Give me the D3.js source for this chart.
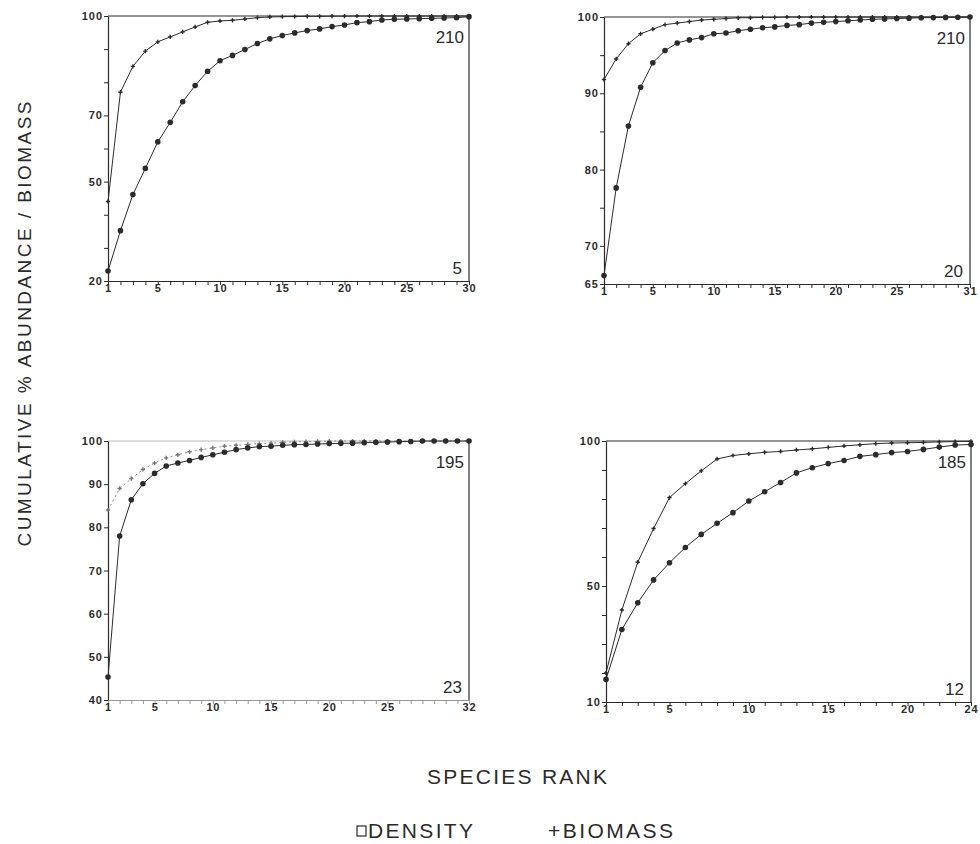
<!DOCTYPE html>
<html>
<head>
<meta charset="utf-8">
<script src="https://cdn.jsdelivr.net/npm/d3@7"></script>
<style>
  html, body { margin: 0; padding: 0; background: #fff; }
  svg { display: block; }
  text { font-family: "Liberation Sans", Arial, Helvetica, sans-serif; fill: #2b2b2b; }
</style>
</head>
<body>
<svg id="chart" width="980" height="844"></svg>
<script>
// ---------- data ----------
// Panel A (top left)
const rankA = d3.range(1, 31);
const densityA = [23, 35.2, 46.1, 54.0, 62.0, 67.9, 74.1, 79.0, 83.3, 86.5, 88.1, 89.9, 91.7, 93.1, 94.1, 94.9, 95.6, 96.1, 96.8, 97.3, 98.0, 98.3, 98.8, 99.0, 99.1, 99.2, 99.3, 99.4, 99.5, 99.8];
const biomassA = [44, 77, 84.8, 89.4, 92.2, 93.7, 95.2, 96.7, 98.1, 98.5, 98.7, 99.1, 99.5, 99.7, 99.8, 99.85, 99.9, 99.9, 99.95, 99.95, 100, 100, 100, 100, 100, 100, 100, 100, 100, 100];
const yTicksA = [20, 30, 40, 50, 60, 70, 80, 90, 100];
const yLabelsA = [20, 50, 70, 100];
const xLabelsA = [1, 5, 10, 15, 20, 25, 30];
const labelsA = ["210", "5"];

// Panel B (top right)
const rankB = d3.range(1, 32);
const densityB = [66.1, 77.6, 85.7, 90.8, 94.0, 95.6, 96.6, 97.0, 97.3, 97.8, 97.9, 98.2, 98.4, 98.6, 98.7, 98.9, 99.0, 99.2, 99.3, 99.4, 99.5, 99.6, 99.7, 99.75, 99.8, 99.85, 99.9, 99.92, 99.95, 99.97, 100];
const biomassB = [91.8, 94.5, 96.5, 97.8, 98.4, 99.0, 99.2, 99.4, 99.6, 99.7, 99.8, 99.9, 99.9, 99.95, 99.95, 100, 100, 100, 100, 100, 100, 100, 100, 100, 100, 100, 100, 100, 100, 100, 100];
const yTicksB = [65, 70, 75, 80, 85, 90, 95, 100];
const yLabelsB = [65, 70, 80, 90, 100];
const xLabelsB = [1, 5, 10, 15, 20, 25, 31];
const labelsB = ["210", "20"];

// Panel C (bottom left)
const rankC = d3.range(1, 33);
const densityC = [45.3, 78.0, 86.4, 90.1, 92.5, 94.2, 94.9, 95.5, 96.2, 96.8, 97.4, 98.0, 98.4, 98.7, 98.8, 99.0, 99.15, 99.2, 99.3, 99.4, 99.45, 99.5, 99.6, 99.7, 99.75, 99.85, 99.9, 100, 100, 100, 100, 100];
const biomassC = [84.0, 89.0, 91.3, 93.4, 94.9, 96.1, 96.8, 97.5, 98.0, 98.4, 98.8, 99.0, 99.2, 99.4, 99.5, 99.7, 99.8, 99.85, 99.9, 99.95, 100, 100, 100, 100, 100, 100, 100, 100, 100, 100, 100, 100];
const yTicksC = [40, 50, 60, 70, 80, 90, 100];
const yLabelsC = [40, 50, 60, 70, 80, 90, 100];
const xLabelsC = [1, 5, 10, 15, 20, 25, 32];
const labelsC = ["195", "23"];

// Panel D (bottom right)
const rankD = d3.range(1, 25);
const densityD = [17.8, 35.0, 44.2, 52.1, 58.0, 63.3, 67.8, 71.6, 75.3, 79.3, 82.5, 85.7, 89.0, 90.8, 92.2, 93.3, 94.7, 95.3, 96.0, 96.4, 97.1, 97.9, 98.6, 98.8];
const biomassD = [20, 41.7, 58.2, 69.8, 80.5, 85.3, 89.7, 93.8, 95.0, 95.6, 96.1, 96.4, 96.9, 97.3, 97.8, 98.3, 98.7, 99.1, 99.3, 99.4, 99.5, 99.7, 99.8, 99.9];
const yTicksD = [10, 20, 30, 40, 50, 60, 70, 80, 90, 100];
const yLabelsD = [10, 50, 100];
const xLabelsD = [1, 5, 10, 15, 20, 24];
const labelsD = ["185", "12"];

const legendLabels = ["DENSITY", "+BIOMASS"];
const xTitle = "SPECIES  RANK";
const yTitle = "CUMULATIVE  %  ABUNDANCE / BIOMASS";

// ---------- drawing ----------
const svg = d3.select("#chart");
const ink = "#2b2b2b";

const panels = [
  { rank: rankA, density: densityA, biomass: biomassA, yTicks: yTicksA, yLabels: yLabelsA, xLabels: xLabelsA, labels: labelsA,
    box: [108, 16, 469, 281], yDom: [20, 100], faint: false },
  { rank: rankB, density: densityB, biomass: biomassB, yTicks: yTicksB, yLabels: yLabelsB, xLabels: xLabelsB, labels: labelsB,
    box: [604, 17, 970, 284], yDom: [65, 100], faint: false },
  { rank: rankC, density: densityC, biomass: biomassC, yTicks: yTicksC, yLabels: yLabelsC, xLabels: xLabelsC, labels: labelsC,
    box: [108, 441, 469, 700], yDom: [40, 100], faint: true },
  { rank: rankD, density: densityD, biomass: biomassD, yTicks: yTicksD, yLabels: yLabelsD, xLabels: xLabelsD, labels: labelsD,
    box: [606, 441, 971, 702], yDom: [10, 100], faint: false }
];

panels.forEach(p => {
  const [x0, y0, x1, y1] = p.box;
  const x = d3.scaleLinear().domain([1, p.rank[p.rank.length - 1]]).range([x0, x1]);
  const y = d3.scaleLinear().domain(p.yDom).range([y1, y0]);
  const g = svg.append("g");

  // frame: top & right
  g.append("line").attr("x1", x0).attr("x2", x1).attr("y1", y0).attr("y2", y0)
    .attr("stroke", p.faint ? "#bbb" : ink).attr("stroke-width", 1);
  g.append("line").attr("x1", x1).attr("x2", x1).attr("y1", y0).attr("y2", y1)
    .attr("stroke", ink).attr("stroke-width", 1.2);

  // x axis
  const xAxis = d3.axisBottom(x).tickValues(p.rank).tickSize(4).tickSizeOuter(0)
    .tickFormat(d => p.xLabels.includes(d) ? d : "");
  const gx = g.append("g").attr("transform", `translate(0,${y1})`).call(xAxis);
  gx.select(".domain").attr("stroke", p.faint ? "#999" : ink).attr("stroke-width", 1.2);
  gx.selectAll(".tick line").attr("stroke", p.faint ? "#999" : ink);
  gx.selectAll("text").attr("dy", "0.55em").attr("y", 5)
    .style("font-size", "11px").style("font-weight", "bold").style("letter-spacing", "0.8px")
    .attr("fill", ink);

  // y axis
  const yAxis = d3.axisLeft(y).tickValues(p.yTicks).tickSize(4).tickSizeOuter(0)
    .tickFormat(d => p.yLabels.includes(d) ? d : "");
  const gy = g.append("g").attr("transform", `translate(${x0},0)`).call(yAxis);
  gy.select(".domain").attr("stroke", ink).attr("stroke-width", 1.2);
  gy.selectAll(".tick line").attr("stroke", ink);
  gy.selectAll("text").attr("x", -5)
    .style("font-size", "11px").style("font-weight", "bold").style("letter-spacing", "1px")
    .attr("fill", ink);

  const line = d3.line().x((d, i) => x(p.rank[i])).y(d => y(d));

  // biomass line (upper, + markers)
  g.append("path").datum(p.biomass).attr("d", line).attr("fill", "none")
    .attr("stroke", p.faint ? "#888" : ink).attr("stroke-width", 1)
    .attr("stroke-dasharray", p.faint ? "2,3" : null);
  g.selectAll(".bm").data(p.biomass).join("path").attr("class", "bm")
    .attr("d", d3.symbol(d3.symbolCross, 10))
    .attr("transform", (d, i) => `translate(${x(p.rank[i])},${y(d)})`)
    .attr("fill", p.faint ? "#777" : ink);

  // density line (lower, filled markers)
  g.append("path").datum(p.density).attr("d", line).attr("fill", "none")
    .attr("stroke", ink).attr("stroke-width", 1);
  g.selectAll(".dn").data(p.density).join("circle").attr("class", "dn")
    .attr("cx", (d, i) => x(p.rank[i])).attr("cy", d => y(d)).attr("r", 2.8)
    .attr("fill", ink);

  // corner numbers
  g.append("text").attr("x", x1 - 5).attr("y", y0 + 27).attr("text-anchor", "end")
    .style("font-size", "17px").text(p.labels[0]);
  g.append("text").attr("x", x1 - 7).attr("y", y1 - 7).attr("text-anchor", "end")
    .style("font-size", "17px").text(p.labels[1]);
});

// axis titles
svg.append("text").attr("transform", "translate(31,324) rotate(-90)")
  .attr("text-anchor", "middle").attr("textLength", 445).attr("lengthAdjust", "spacing")
  .style("font-size", "19px").text(yTitle);

svg.append("text").attr("x", 517).attr("y", 784).attr("text-anchor", "middle")
  .attr("textLength", 180).attr("lengthAdjust", "spacing")
  .style("font-size", "21px").text(xTitle);

// legend
svg.append("rect").attr("x", 357).attr("y", 826).attr("width", 9).attr("height", 10)
  .attr("fill", "none").attr("stroke", ink).attr("stroke-width", 1.2);
svg.append("text").attr("x", 368).attr("y", 838).attr("textLength", 105).attr("lengthAdjust", "spacing")
  .style("font-size", "21px").text(legendLabels[0]);
svg.append("text").attr("x", 548).attr("y", 838).attr("textLength", 125).attr("lengthAdjust", "spacing")
  .style("font-size", "21px").text(legendLabels[1]);
</script>
</body>
</html>
